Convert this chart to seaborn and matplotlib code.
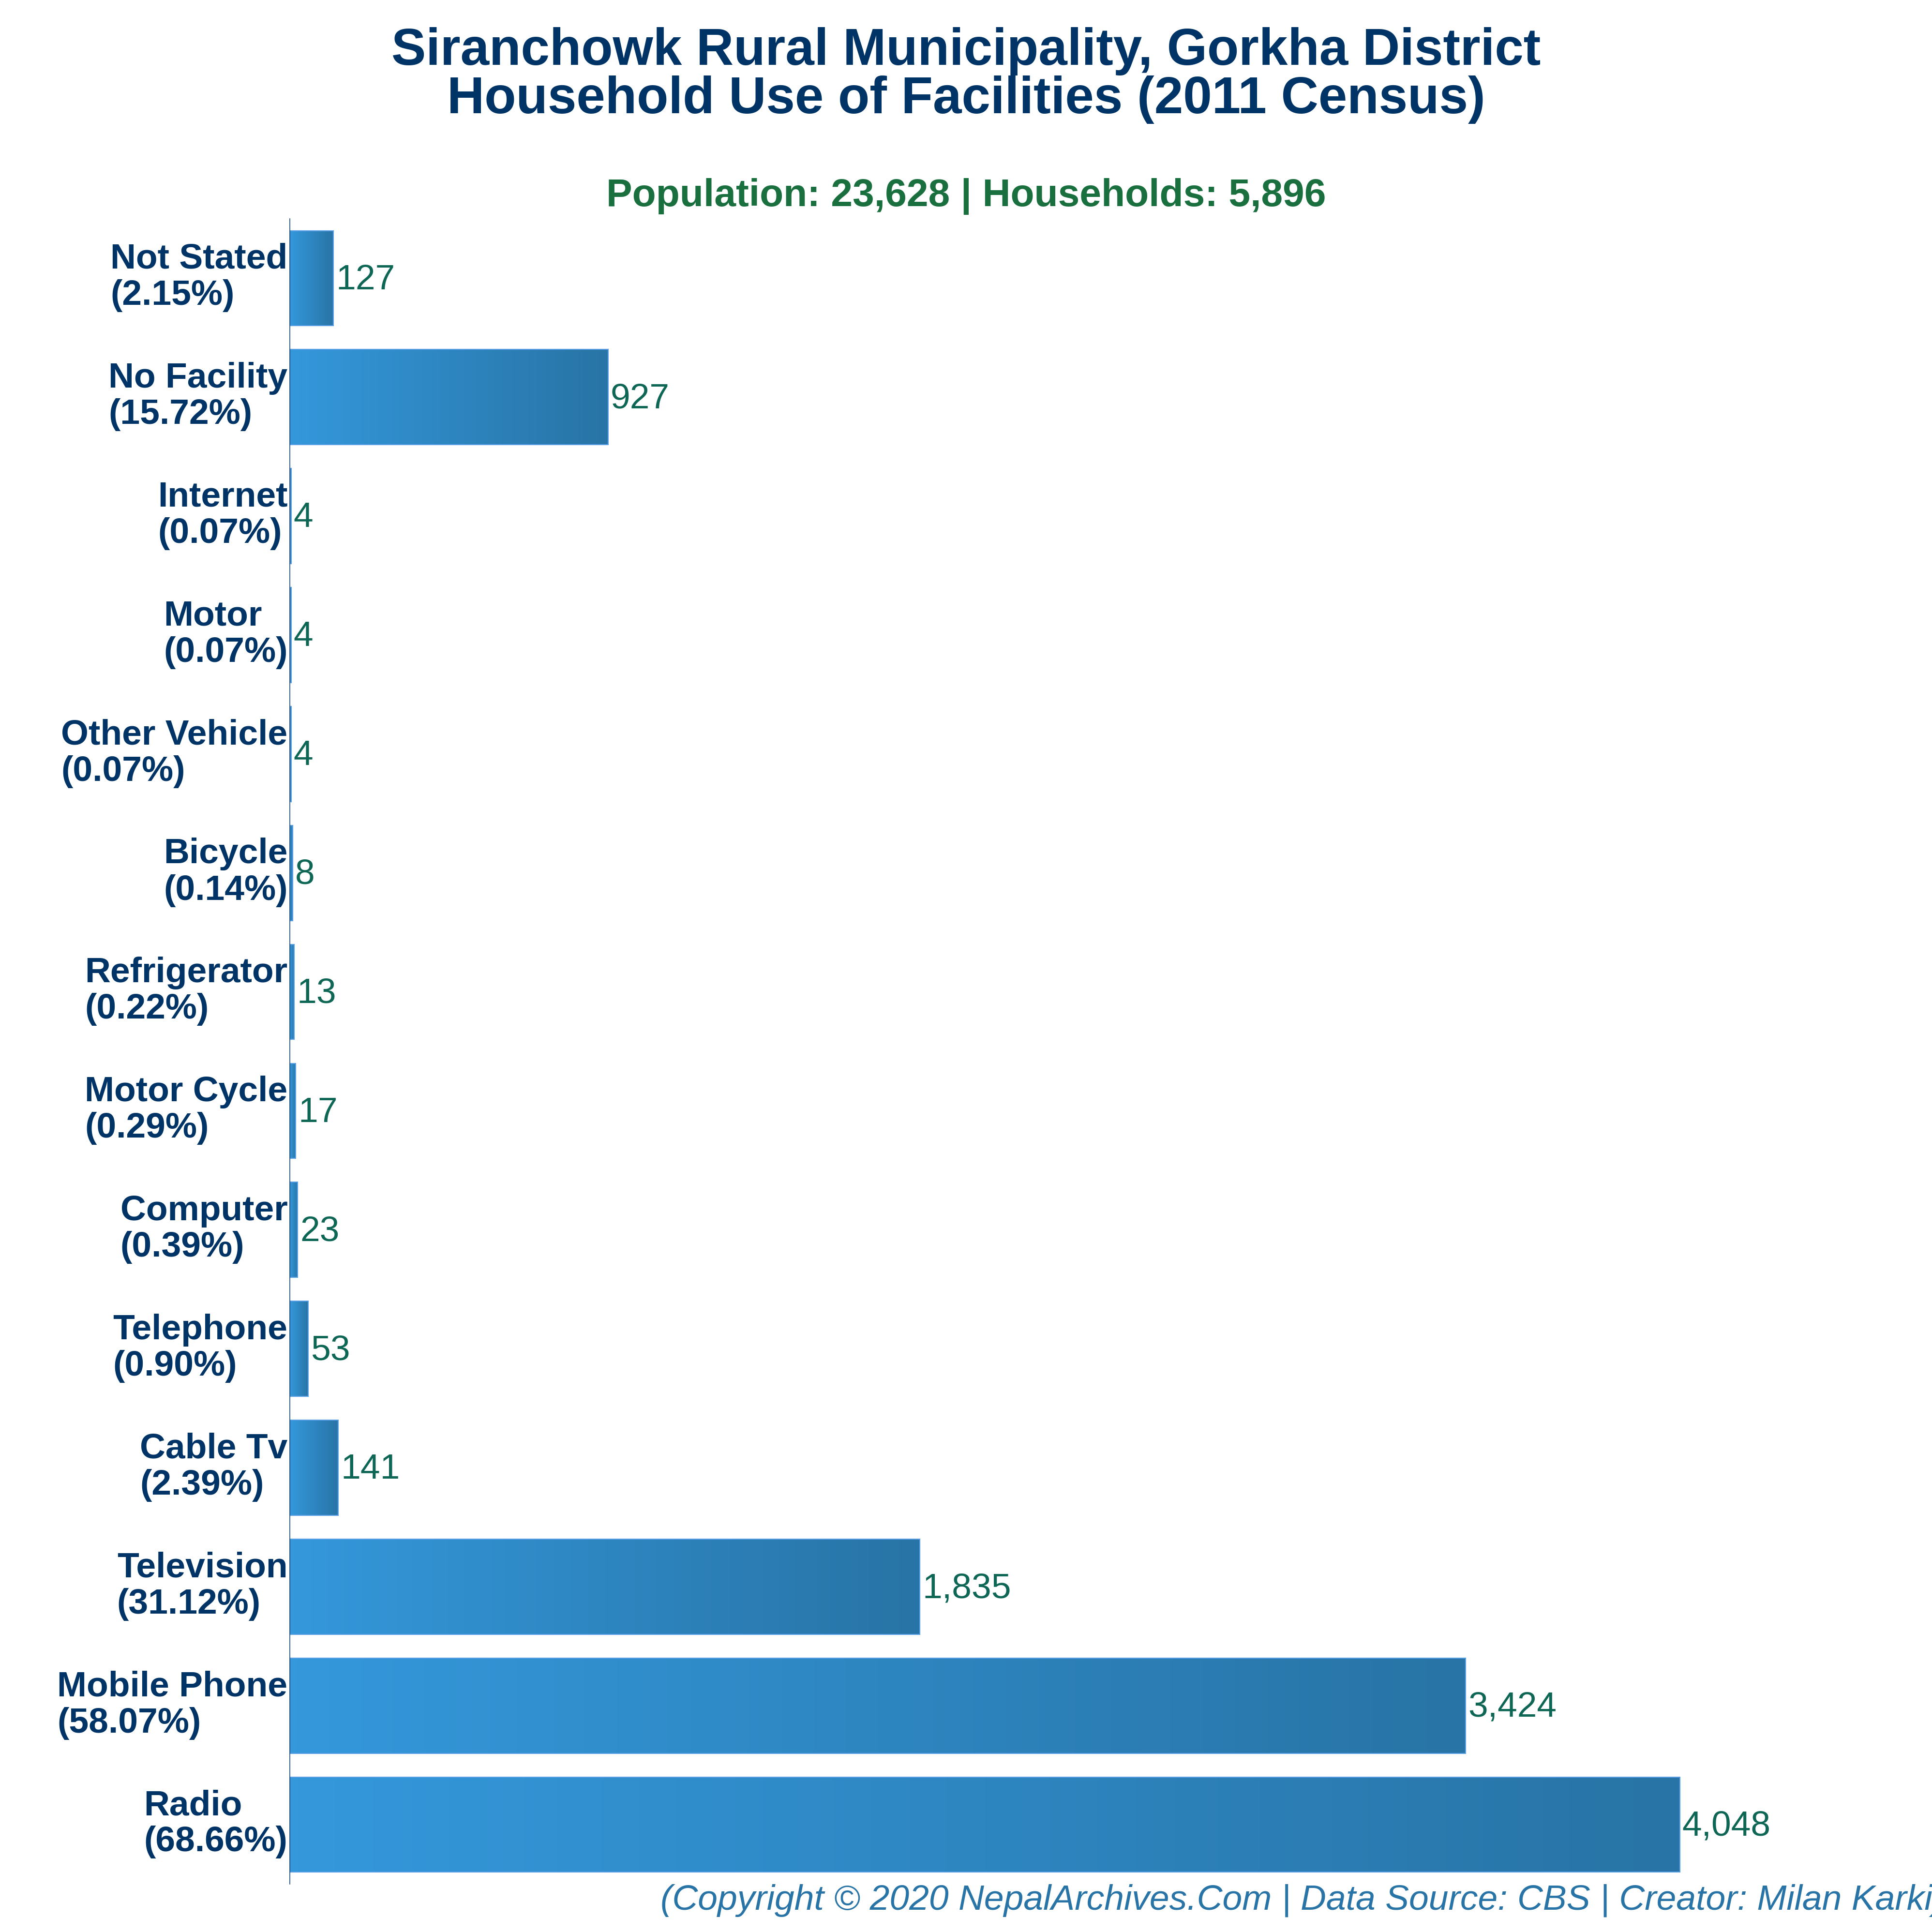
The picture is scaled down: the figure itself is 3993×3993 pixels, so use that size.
import numpy as np
import matplotlib
matplotlib.use("Agg")
import matplotlib.pyplot as plt
import matplotlib.colors as mcolors
from matplotlib.transforms import ScaledTranslation
import seaborn as sns

categories = ["Not Stated", "No Facility", "Internet", "Motor", "Other Vehicle", "Bicycle",
              "Refrigerator", "Motor Cycle", "Computer", "Telephone", "Cable Tv",
              "Television", "Mobile Phone", "Radio"]
households = [127, 927, 4, 4, 4, 8, 13, 17, 23, 53, 141, 1835, 3424, 4048]
percents = ["2.15", "15.72", "0.07", "0.07", "0.07", "0.14", "0.22", "0.29", "0.39", "0.90",
            "2.39", "31.12", "58.07", "68.66"]
title_text = "Siranchowk Rural Municipality, Gorkha District\nHousehold Use of Facilities (2011 Census)"
subtitle_text = "Population: 23,628 | Households: 5,896"
caption_text = "(Copyright © 2020 NepalArchives.Com | Data Source: CBS | Creator: Milan Karki)"

W = H = 3993
DPI = 300
sns.set_theme(style="white")
plt.rcParams["font.family"] = ["Liberation Sans", "DejaVu Sans"]

fig = plt.figure(figsize=(W / DPI, H / DPI), dpi=DPI, facecolor="white")
ax = fig.add_axes([599 / W, 1 - 3894 / H, (W - 599) / W, (3894 - 452) / H])

sns.barplot(x=households, y=categories, orient="h", order=categories, width=0.8,
            color="#3498db", edgecolor="#5b9fe6", linewidth=0.5, saturation=1, ax=ax)

ax.set_xlim(0, (W - 599) / 0.7097)
ylim = ax.get_ylim()
xlim = ax.get_xlim()

cmap = mcolors.LinearSegmentedColormap.from_list("bar", ["#3498db", "#2874a6"])
grad = np.linspace(0, 1, 256).reshape(1, -1)
for patch in ax.patches:
    x0, y0, w, h = patch.get_x(), patch.get_y(), patch.get_width(), patch.get_height()
    im = ax.imshow(grad, extent=[x0, x0 + w, y0 + h, y0], aspect="auto", cmap=cmap,
                   zorder=2, interpolation="bilinear")
    im.set_clip_path(patch)
    patch.set_facecolor("none")
    patch.set_zorder(3)
ax.set_xlim(xlim)
ax.set_ylim(ylim)

value_labels = ax.bar_label(ax.containers[0], fmt="{:,.0f}", padding=1.2, fontsize=17.6,
                            color="#0e6655")
for lab in value_labels:
    lab.xyann = (lab.xyann[0], -1.0)

ax.set_yticks(range(len(categories)))
ax.set_yticklabels([f"{c}\n({p}%)" for c, p in zip(categories, percents)],
                   fontsize=17.6, fontweight="bold", color="#003366", ma="left", ha="right",
                   linespacing=1.14)
ax.tick_params(axis="y", length=0, pad=1.1)
shift_up = ScaledTranslation(0, 3.0 / 72, fig.dpi_scale_trans)
for lab in ax.get_yticklabels():
    lab.set_transform(lab.get_transform() + shift_up)
ax.set_xticks([])
ax.set_xlabel("")
ax.set_ylabel("")
sns.despine(ax=ax, top=True, right=True, bottom=True, left=False)
ax.spines["left"].set_color("#003366")
ax.spines["left"].set_linewidth(0.36)
ax.spines["left"].set_zorder(4)

fig.text(0.5, 1 - 234 / H, title_text, ha="center", va="baseline", fontsize=25.7,
         fontweight="bold", color="#003366", linespacing=1.0)
fig.text(0.5, 1 - 426 / H, subtitle_text, ha="center", va="baseline", fontsize=19.3,
         fontweight="bold", color="#196f3d")
fig.text(1365 / W, 1 - 3946 / H, caption_text, ha="left", va="baseline", fontsize=17.6,
         style="italic", color="#2874a6")

fig.savefig("out.png", dpi=DPI, facecolor="white")
